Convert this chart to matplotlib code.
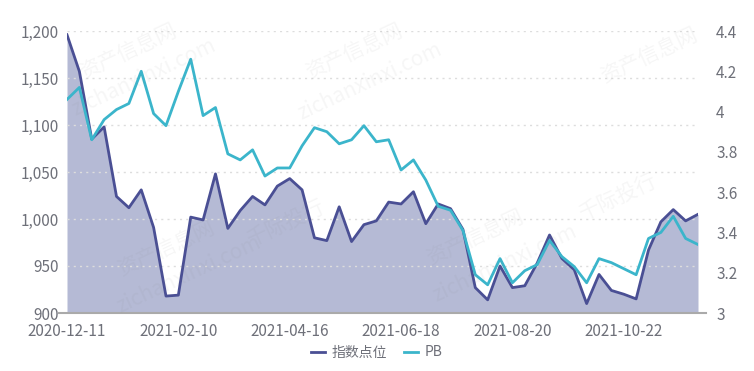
import matplotlib
matplotlib.use("Agg")
import matplotlib.pyplot as plt
from matplotlib.ticker import FuncFormatter, FixedLocator

plt.rcParams['font.family'] = ['Noto Sans CJK SC', 'DejaVu Sans']

# 周度日期
dates = ['2020-12-11', '2020-12-18', '2020-12-25', '2020-12-31', '2021-01-08',
         '2021-01-15', '2021-01-22', '2021-01-29', '2021-02-05', '2021-02-10',
         '2021-02-19', '2021-02-26', '2021-03-05', '2021-03-12', '2021-03-19',
         '2021-03-26', '2021-04-02', '2021-04-09', '2021-04-16', '2021-04-23',
         '2021-04-30', '2021-05-07', '2021-05-14', '2021-05-21', '2021-05-28',
         '2021-06-04', '2021-06-11', '2021-06-18', '2021-06-25', '2021-07-02',
         '2021-07-09', '2021-07-16', '2021-07-23', '2021-07-30', '2021-08-06',
         '2021-08-13', '2021-08-20', '2021-08-27', '2021-09-03', '2021-09-10',
         '2021-09-17', '2021-09-24', '2021-09-30', '2021-10-08', '2021-10-15',
         '2021-10-22', '2021-10-29', '2021-11-05', '2021-11-12', '2021-11-19',
         '2021-11-26', '2021-12-03']

# 指数点位
index_vals = [1196, 1157, 1085, 1098, 1024, 1012, 1031, 991, 918, 919,
              1002, 999, 1048, 990, 1009, 1024, 1015, 1035, 1043, 1031,
              980, 977, 1013, 976, 994, 998, 1018, 1016, 1029, 995,
              1016, 1011, 989, 927, 914, 950, 927, 929, 953, 983,
              958, 946, 910, 941, 924, 920, 915, 967, 997, 1010,
              998, 1005]

# PB
pb_vals = [4.06, 4.12, 3.86, 3.96, 4.01, 4.04, 4.20, 3.99, 3.93, 4.10,
           4.26, 3.98, 4.02, 3.79, 3.76, 3.81, 3.68, 3.72, 3.72, 3.83,
           3.92, 3.90, 3.84, 3.86, 3.93, 3.85, 3.86, 3.71, 3.76, 3.66,
           3.53, 3.51, 3.41, 3.19, 3.14, 3.27, 3.15, 3.21, 3.24, 3.36,
           3.28, 3.23, 3.15, 3.27, 3.25, 3.22, 3.19, 3.37, 3.40, 3.48,
           3.37, 3.34]

left_ticks = [900, 950, 1000, 1050, 1100, 1150, 1200]
right_ticks = [3, 3.2, 3.4, 3.6, 3.8, 4, 4.2, 4.4]

c_index = '#4a4f94'
c_fill = '#b5bad5'
c_pb = '#3bb5cb'
c_text = '#6e7079'

fig = plt.figure(figsize=(7.54, 3.71), dpi=100)
ax = fig.add_axes([67 / 754, 1 - 313 / 371, 631 / 754, 282 / 371])
x = list(range(len(dates)))

ax.fill_between(x, index_vals, 900, color=c_fill, lw=0, zorder=1)
l1, = ax.plot(x, index_vals, color=c_index, lw=2, zorder=3)
ax.set_ylim(900, 1200)
ax.set_xlim(0, len(dates) - 1)
ax.yaxis.set_major_locator(FixedLocator(left_ticks))
ax.yaxis.set_major_formatter(FuncFormatter(lambda v, p: f'{int(v):,}'))
ax.grid(axis='y', linestyle=(0, (1.5, 3)), color='#dddddd', lw=1, zorder=0)
ax.set_xticks(x[::9])
ax.set_xticklabels(dates[::9])

ax2 = ax.twinx()
l2, = ax2.plot(x, pb_vals, color=c_pb, lw=2, zorder=4)
ax2.set_ylim(3, 4.4)
ax2.yaxis.set_major_locator(FixedLocator(right_ticks))
ax2.yaxis.set_major_formatter(FuncFormatter(lambda v, p: f'{v:g}'))

for a in (ax, ax2):
    for s in ('top', 'left', 'right', 'bottom'):
        a.spines[s].set_visible(False)
    a.tick_params(length=0, labelsize=11, colors=c_text)
ax.tick_params(axis='x', pad=7)
ax.tick_params(axis='y', pad=6)
ax2.tick_params(axis='y', pad=13)
ax.axhline(900, color='#aaaaaa', lw=1.5, xmin=-0.012, xmax=1.012, clip_on=False, zorder=5)

# 水印（很淡）
wm = dict(color='#808080', alpha=0.07, fontsize=15, rotation=25,
          ha='center', va='center', zorder=2)
fig.text(0.17, 0.86, '资产信息网', **wm)
fig.text(0.19, 0.79, 'zichanxinxi.com', **wm)
fig.text(0.47, 0.86, '资产信息网', **wm)
fig.text(0.49, 0.78, 'zichanxinxi.com', **wm)
fig.text(0.86, 0.85, '资产信息网', **wm)
fig.text(0.22, 0.33, '资产信息网', **wm)
fig.text(0.25, 0.26, 'zichanxinxi.com', **wm)
fig.text(0.38, 0.4, '千际投行', **wm)
fig.text(0.63, 0.36, '资产信息网', **wm)
fig.text(0.67, 0.29, 'zichanxinxi.com', **wm)
fig.text(0.82, 0.47, '千际投行', **wm)

fig.legend([l1, l2], ['指数点位', 'PB'], loc='center', bbox_to_anchor=(0.5, 0.05),
           ncol=2, frameon=False, fontsize=10, handlelength=1.0, columnspacing=1.2,
           handletextpad=0.5, labelcolor=c_text)

fig.savefig('out.png', dpi=100)
